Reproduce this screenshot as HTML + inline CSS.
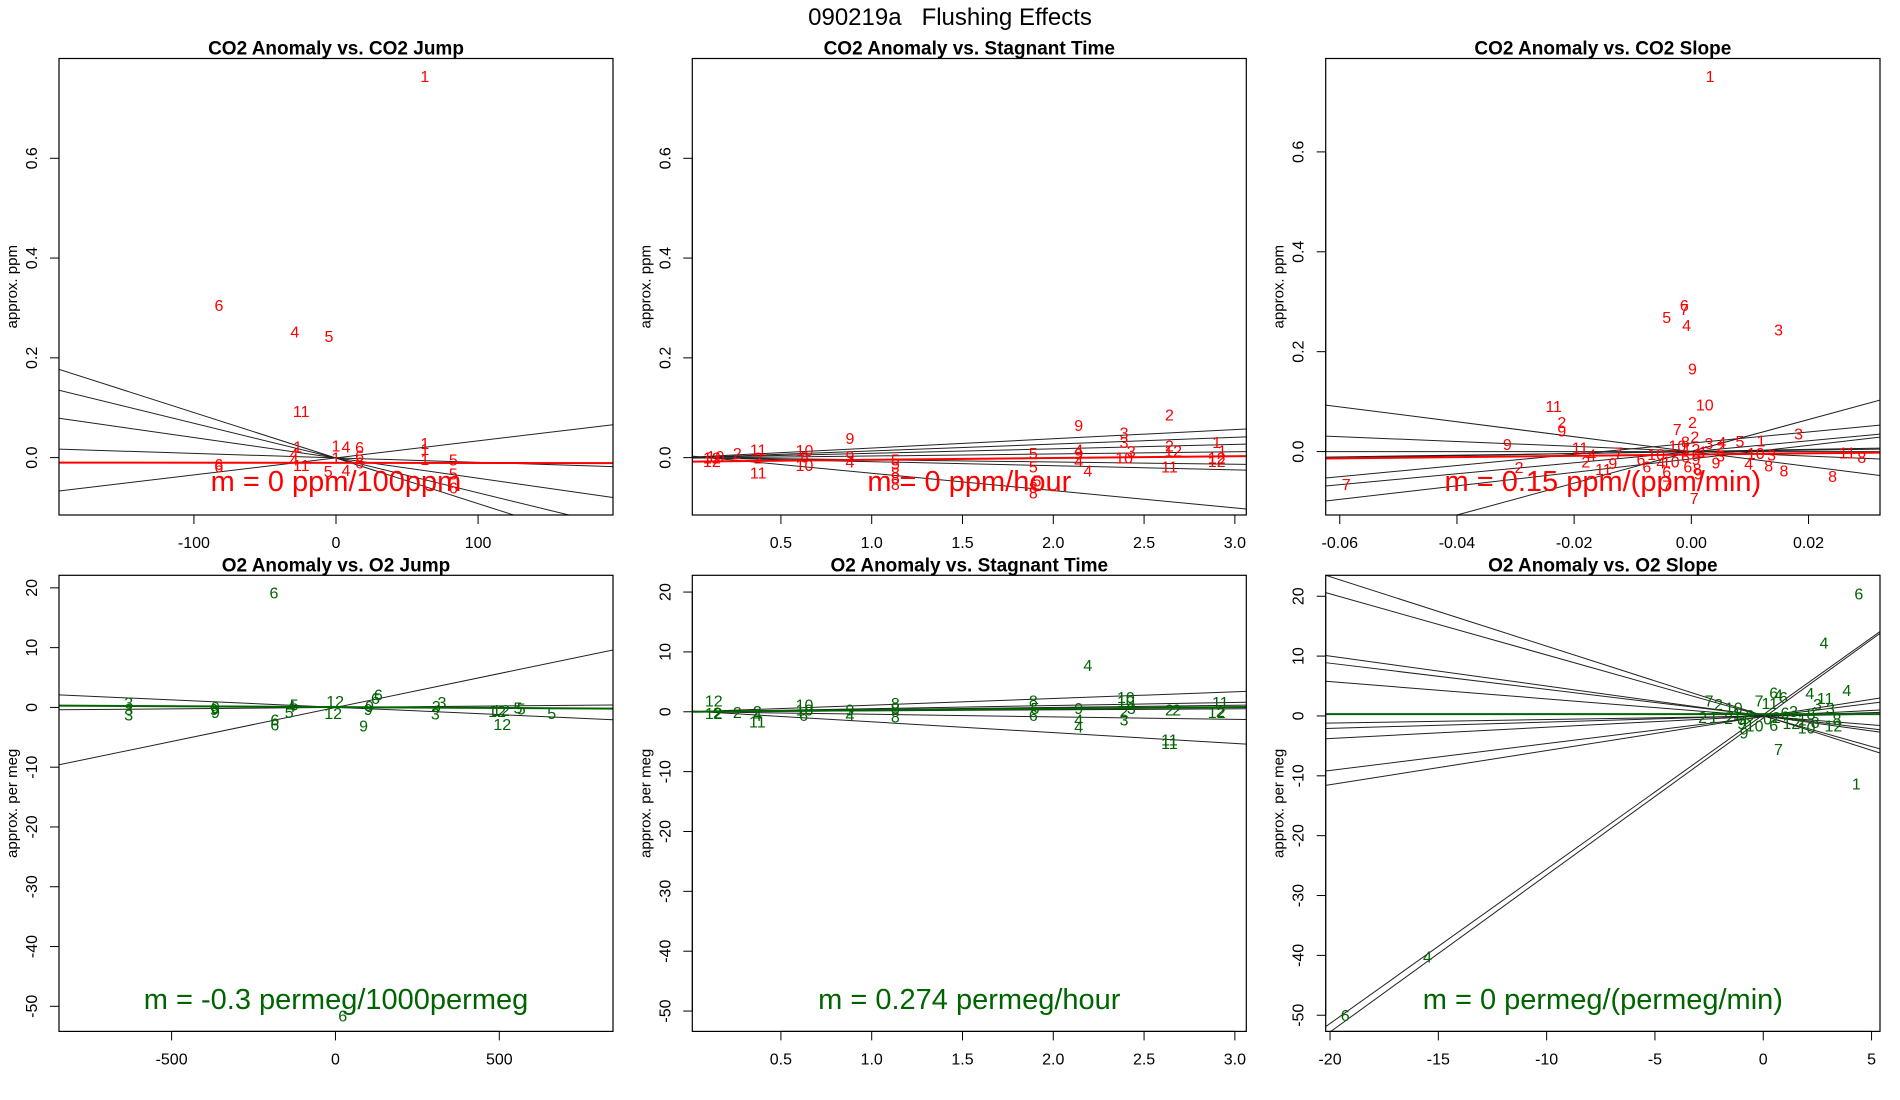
<!DOCTYPE html>
<html><head><meta charset="utf-8"><style>
html,body{margin:0;padding:0;background:#fff;}
svg{display:block;font-family:"Liberation Sans",Arial,sans-serif;}
</style></head><body>
<svg id="fig" width="1900" height="1100" viewBox="0 0 1900 1100" xmlns="http://www.w3.org/2000/svg">
<rect x="0" y="0" width="1900" height="1100" fill="#fff"/>
<text x="950" y="25" font-size="24" text-anchor="middle">090219a&#160;&#160;&#160;Flushing Effects</text>
</svg>
<script>
// ---------- Panel 1: CO2 Anomaly vs CO2 Jump ----------
const p1Labels=["1","6","4","5","11","1","1","1","1","4","6","6","6","5","5","6","4","1","11","6","6","5","1","4","4"];
const p1X=[62.5,-82.4,-29,-5,-24.5,62.5,62.5,62.5,0,7,16.6,16.6,16.6,82.6,82.6,82.6,-29.5,-27,-24.5,-82.5,-82.5,-5.5,0,7,-29.5];
const p1Y=[0.765,0.306,0.253,0.244,0.093,0.029,0.017,-0.003,0.024,0.022,0.021,0.004,-0.01,-0.004,-0.032,-0.06,-0.004,0.022,-0.015,-0.013,-0.018,-0.027,0.0,-0.025,0.008];
const p1Lines=[[-195,0.177,125,-0.115],[-195,0.135,164,-0.115],[-195,0.079,195,-0.08],[-195,0.017,195,-0.018],[-195,-0.067,195,0.066]];
const p1Fit=[-195,-0.010,195,-0.011];
const p1XTicks=[-100,0,100];
const p1YTicks=[0,0.2,0.4,0.6];
const p1XTickLabels=["-100","0","100"];
const p1YTickLabels=["0.0","0.2","0.4","0.6"];
// ---------- Panel 2: CO2 Anomaly vs Stagnant Time ----------
const p2Labels=["12","12","10","2","11","2","11","10","8","10","9","9","4","5","5","8","8","8","5","5","5","8","8","9","4","9","4","4","3","3","3","10","2","2","12","11","1","1","12","12"];
const p2X=[0.12,0.12,0.14,0.26,0.375,0.375,0.375,0.63,0.63,0.63,0.88,0.88,0.88,1.13,1.13,1.13,1.13,1.13,1.89,1.89,1.91,1.89,1.89,2.14,2.14,2.14,2.14,2.19,2.39,2.39,2.43,2.39,2.64,2.64,2.66,2.64,2.9,2.93,2.9,2.9];
const p2Y=[0,-0.007,0.003,0.009,0.016,0,-0.03,0.015,0.002,-0.015,0.039,0.003,-0.008,-0.004,-0.012,-0.03,-0.04,-0.053,0.009,-0.018,-0.046,-0.059,-0.07,0.065,0.016,0.008,-0.007,-0.026,0.05,0.031,0.013,0.0,0.086,0.024,0.014,-0.018,0.031,0.014,0,-0.007];
const p2Lines=[[0.012,0.001,3.063,0.0575],[0.012,0.0,3.063,0.0415],[0.012,0.0,3.063,0.027],[0.012,-0.001,3.063,0.012],[0.012,0.0,3.063,-0.0135],[0.012,0.0,3.063,-0.025],[0.012,0.003,3.063,-0.103]];
const p2Fit=[0.012,-0.008,3.063,0.003];
const p2XTicks=[0.5,1.0,1.5,2.0,2.5,3.0];
const p2XTickLabels=["0.5","1.0","1.5","2.0","2.5","3.0"];
// ---------- Panel 3: CO2 Anomaly vs CO2 Slope ----------
const p3Labels=["1","6","7","5","4","3","9","10","11","2","9","9","2","7","3","5","1","11","4","2","7","9","11","2","7","6","6","4","6","10","10","7","7","6","8","9","10","3","4","8","8","8","11","8","9","3","3","4","2","12","4","2","8","10","1","6","9"];
const p3X=[0.0032,-0.0012,-0.0012,-0.0042,-0.0008,0.0149,0.0002,0.0023,-0.0235,-0.0221,-0.0221,-0.0314,0.0002,-0.0024,0.0183,0.0083,0.0119,-0.019,-0.017,-0.018,-0.0124,-0.0134,-0.015,-0.0294,-0.0589,-0.0086,-0.0076,-0.0052,-0.0042,-0.0035,-0.0024,-0.0042,0.0005,-0.0006,0.001,0.0012,0.011,0.0137,0.0098,0.0132,0.0158,0.0241,0.0266,0.0291,0.0042,0.005,0.003,0.0052,0.005,0.0,0.001,0.0006,-0.001,-0.006,0.002,-0.001,0.0008];
const p3Y=[0.752,0.293,0.285,0.269,0.253,0.244,0.166,0.094,0.091,0.059,0.042,0.015,0.059,0.045,0.036,0.021,0.022,0.008,-0.006,-0.02,-0.002,-0.023,-0.035,-0.031,-0.065,-0.015,-0.03,-0.022,-0.04,-0.02,0.012,-0.068,-0.093,-0.03,-0.034,-0.044,-0.003,-0.006,-0.024,-0.028,-0.038,-0.049,-0.002,-0.011,-0.022,-0.008,0.017,0.019,0.01,0.005,-0.005,0.03,0.02,-0.005,0.0,-0.01,-0.015];
const p3Lines=[[-0.0624,0.093,0.0322,-0.048],[-0.0624,0.031,0.0322,-0.015],[-0.0624,0,0.0322,0],[-0.0624,-0.011,0.0322,0.005],[-0.0624,-0.013,0.0322,0.007],[-0.0624,-0.053,0.0322,0.053],[-0.0624,-0.069,0.0322,0.035],[-0.0624,-0.099,0.0322,0.029],[-0.040,-0.127,0.0322,0.103]];
const p3Fit=[-0.0624,-0.014,0.0322,-0.002];
const p3XTicks=[-0.06,-0.04,-0.02,0,0.02];
const p3XTickLabels=["-0.06","-0.04","-0.02","0.00","0.02"];
// ---------- Panel 4: O2 Anomaly vs O2 Jump ----------
const p4Labels=["6","3","3","3","9","9","9","5","4","5","6","6","12","12","9","9","6","6","3","3","3","12","12","12","5","5","5","6","9"];
const p4X=[-187.5,-631,-631,-631,-366,-366,-370,-126,-135,-141,-185,-185,-1,-7,104,86,131,122,325,308,305,493,505,509,557,567,660,22,100];
const p4Y=[19.2,0.8,-0.3,-1.2,0.05,-0.8,-0.3,0.5,0.2,-0.8,-2.0,-2.9,1.1,-0.9,0.2,-3.0,2.2,1.6,0.9,0.2,-1.0,-0.6,-0.4,-2.8,0.0,-0.2,-0.9,-51.5,-0.3];
const p4Lines=[[-843.6,-9.6,847,9.6],[-843.6,2.1,847,-2.06],[-843.6,-0.4,847,0.4]];
const p4Fit=[-843.6,0.3,847,-0.2];
const p4XTicks=[-500,0,500];
const p4XTickLabels=["-500","0","500"];
const o2YTicks=[-50,-40,-30,-20,-10,0,10,20];
const o2YTickLabels=["-50","-40","-30","-20","-10","0","10","20"];
// ---------- Panel 5: O2 Anomaly vs Stagnant Time ----------
const p5Labels=["12","12","2","2","2","4","11","10","10","6","9","4","8","8","8","8","5","6","4","9","4","4","10","10","3","2","3","11","11","2","2","11","12","2"];
const p5X=[0.13,0.13,0.15,0.26,0.37,0.37,0.37,0.63,0.63,0.625,0.88,0.88,1.13,1.13,1.13,1.89,1.9,1.89,2.19,2.14,2.14,2.14,2.4,2.4,2.43,2.39,2.39,2.64,2.64,2.64,2.68,2.92,2.9,2.92];
const p5Y=[1.9,-0.2,-0.1,0,0.1,-0.5,-1.6,1.2,0.4,-0.5,0.4,-0.5,1.5,0.6,-0.8,1.9,0.6,-0.5,7.8,0.6,-1.3,-2.5,2.5,1.8,0.6,0.1,-1.3,-4.6,-5.2,0.4,0.4,1.6,0,0.1];
const p5Lines=[[0.012,0,3.063,3.4],[0.012,0,3.063,1.6],[0.012,0,3.063,1.1],[0.012,0,3.063,0.5],[0.012,0,3.063,-1.3],[0.012,0.1,3.063,-5.4]];
const p5Fit=[0.012,0,3.063,0.8];
// ---------- Panel 6: O2 Anomaly vs O2 Slope ----------
const p6Labels=["6","4","4","4","11","6","4","6","7","11","7","2","10","2","1","9","10","6","7","1","4","6","12","8","3","3","10","8","2","1","4","9","0","2","6","3","1","8","12","9"];
const p6X=[4.41,2.8,3.86,2.15,2.86,0.48,0.7,0.93,-0.19,0.3,-2.5,-2.07,-1.36,-2.8,-2.3,-0.89,-0.4,0.48,0.7,4.3,-15.5,-19.3,3.24,3.4,3.1,2.5,2.0,2.4,-1.6,-1.2,-0.9,-0.6,0.2,0.6,1.0,1.4,1.8,2.2,1.3,-1.0];
const p6Y=[20.5,12.3,4.3,3.8,3.0,3.9,3.6,3.2,2.6,2.2,2.6,2.0,1.4,-0.2,-0.2,-2.8,-1.6,-1.5,-5.5,-11.3,-40.2,-50.0,-1.6,-0.5,1.3,2.0,-1.9,-1.0,-0.3,0.4,-0.8,0.2,-0.4,-0.2,0.6,0.8,-0.6,0.4,-1.2,-1.2];
const p6Lines=[[-20.2,23.5,5.39,-6.2],[-20.2,20.6,5.39,-5.5],[-20.2,10.1,5.39,-2.7],[-20.2,8.9,5.39,-2.3],[-20.2,5.8,5.39,-1.6],[-20.2,-1.2,5.39,0.3],[-20.2,-2.1,5.39,0.6],[-20.2,-3.8,5.39,1.0],[-20.2,-9.2,5.39,2.3],[-20.2,-11.6,5.39,3.0],[-20.2,-51.9,5.39,14.1],[-19.96,-52.7,5.39,13.8]];
const p6Fit=[-20.2,0.3,5.39,0.3];
const p6XTicks=[-20,-15,-10,-5,0,5];
const p6XTickLabels=["-20","-15","-10","-5","0","5"];

const NS="http://www.w3.org/2000/svg";
const svg=document.getElementById('fig');
function mk(tag,attrs,parent){const e=document.createElementNS(NS,tag);for(const k in attrs)e.setAttribute(k,attrs[k]);(parent||svg).appendChild(e);return e;}

function panel(cfg,idx){
  const g=mk('g',{});
  
  
  const L=cfg.box[0],T=cfg.box[1],R=cfg.box[2],B=cfg.box[3];
  const sx=v=>L+(v-cfg.xlim[0])/(cfg.xlim[1]-cfg.xlim[0])*(R-L);
  const sy=v=>B-(v-cfg.ylim[0])/(cfg.ylim[1]-cfg.ylim[0])*(B-T);
  const cp=mk('clipPath',{id:'clip'+idx},g);
  mk('rect',{x:L,y:T,width:R-L,height:B-T},cp);
  const t=mk('text',{x:(L+R)/2,y:T-4,'font-size':19,'font-weight':'bold','text-anchor':'middle'},g);
  
  
  t.textContent=cfg.title;
  const yt=mk('text',{x:0,y:0,'font-size':15,'text-anchor':'middle',transform:`translate(${L-42},${(T+B)/2}) rotate(-90)`},g);
  
  
  yt.textContent=cfg.ylab;
  const xs=cfg.xticks.map(sx);
  const xa=mk('line',{x1:xs[0],y1:B,x2:xs[xs.length-1],y2:B,stroke:'#000'},g);
  
  
  cfg.xticks.forEach((v,i)=>{
    const x=sx(v);
    const tk=mk('line',{x1:x,y1:B,x2:x,y2:B+9,stroke:'#000'},g);
    
    
    const tl=mk('text',{x:x,y:B+33,'font-size':16,'text-anchor':'middle'},g);
    
    
    tl.textContent=cfg.xtl[i];
  });
  const ys=cfg.yticks.map(sy);
  const ya=mk('line',{x1:L,y1:ys[0],x2:L,y2:ys[ys.length-1],stroke:'#000'},g);
  
  
  cfg.yticks.forEach((v,i)=>{
    const y=sy(v);
    const tk=mk('line',{x1:L-9,y1:y,x2:L,y2:y,stroke:'#000'},g);
    
    
    const tl=mk('text',{x:0,y:0,'font-size':16,'text-anchor':'middle',transform:`translate(${L-22},${y}) rotate(-90)`},g);
    
    
    tl.textContent=cfg.ytl[i];
  });
  const inner=mk('g',{'clip-path':`url(#clip${idx})`},g);
  cfg.lines.forEach(l=>{
    const ln=mk('line',{x1:sx(l[0]),y1:sy(l[1]),x2:sx(l[2]),y2:sy(l[3]),stroke:'#222','stroke-width':1},inner);
    
    
  });
  cfg.labels.forEach((lab,i)=>{
    const tx=mk('text',{x:sx(cfg.xs[i]),y:sy(cfg.ys[i])+6,'font-size':16,'text-anchor':'middle',fill:cfg.color},inner);
    
    
    tx.textContent=lab;
  });
  const f=cfg.fit;
  const fl=mk('line',{x1:sx(f[0]),y1:sy(f[1]),x2:sx(f[2]),y2:sy(f[3]),stroke:cfg.color,'stroke-width':2},inner);
  
  
  const mt=mk('text',{x:(L+R)/2,y:cfg.mY,'font-size':29,'text-anchor':'middle',fill:cfg.color},g);
  
  
  mt.textContent=cfg.mText;
  const bx=mk('rect',{x:L,y:T,width:R-L,height:B-T,fill:'none',stroke:'#000','stroke-width':1.2},g);
  
  
}
const RED='#ff0000',GREEN='#006400';
const co2Y=[-0.115,0.80];
const cfgs=[
 {name:'panel-co2-jump',box:[59,58.5,613,515],xlim:[-195,195],ylim:co2Y,title:'CO2 Anomaly vs. CO2 Jump',ylab:'approx. ppm',xticks:p1XTicks,xtl:p1XTickLabels,yticks:p1YTicks,ytl:p1YTickLabels,lines:p1Lines,labels:p1Labels,xs:p1X,ys:p1Y,fit:p1Fit,color:RED,mText:'m = 0 ppm/100ppm',mY:491},
 {name:'panel-co2-stagnant',box:[692.3,58.5,1246.3,515],xlim:[0.012,3.063],ylim:co2Y,title:'CO2 Anomaly vs. Stagnant Time',ylab:'approx. ppm',xticks:p2XTicks,xtl:p2XTickLabels,yticks:p1YTicks,ytl:p1YTickLabels,lines:p2Lines,labels:p2Labels,xs:p2X,ys:p2Y,fit:p2Fit,color:RED,mText:'m = 0 ppm/hour',mY:491},
 {name:'panel-co2-slope',box:[1325.7,58.5,1880,515],xlim:[-0.0624,0.0322],ylim:[-0.127,0.787],title:'CO2 Anomaly vs. CO2 Slope',ylab:'approx. ppm',xticks:p3XTicks,xtl:p3XTickLabels,yticks:p1YTicks,ytl:p1YTickLabels,lines:p3Lines,labels:p3Labels,xs:p3X,ys:p3Y,fit:p3Fit,color:RED,mText:'m = 0.15 ppm/(ppm/min)',mY:491},
 {name:'panel-o2-jump',box:[59,575.3,613,1031.4],xlim:[-843.6,847],ylim:[-54.2,22.1],title:'O2 Anomaly vs. O2 Jump',ylab:'approx. per meg',xticks:p4XTicks,xtl:p4XTickLabels,yticks:o2YTicks,ytl:o2YTickLabels,lines:p4Lines,labels:p4Labels,xs:p4X,ys:p4Y,fit:p4Fit,color:GREEN,mText:'m = -0.3 permeg/1000permeg',mY:1009},
 {name:'panel-o2-stagnant',box:[692.3,575.3,1246.3,1031.4],xlim:[0.012,3.063],ylim:[-53.4,22.8],title:'O2 Anomaly vs. Stagnant Time',ylab:'approx. per meg',xticks:p2XTicks,xtl:p2XTickLabels,yticks:o2YTicks,ytl:o2YTickLabels,lines:p5Lines,labels:p5Labels,xs:p5X,ys:p5Y,fit:p5Fit,color:GREEN,mText:'m = 0.274 permeg/hour',mY:1009},
 {name:'panel-o2-slope',box:[1325.7,575.3,1880,1031.4],xlim:[-20.2,5.39],ylim:[-52.7,23.5],title:'O2 Anomaly vs. O2 Slope',ylab:'approx. per meg',xticks:p6XTicks,xtl:p6XTickLabels,yticks:o2YTicks,ytl:o2YTickLabels,lines:p6Lines,labels:p6Labels,xs:p6X,ys:p6Y,fit:p6Fit,color:GREEN,mText:'m = 0 permeg/(permeg/min)',mY:1009}
];
cfgs.forEach((c,i)=>panel(c,i));
</script>
</body></html>
